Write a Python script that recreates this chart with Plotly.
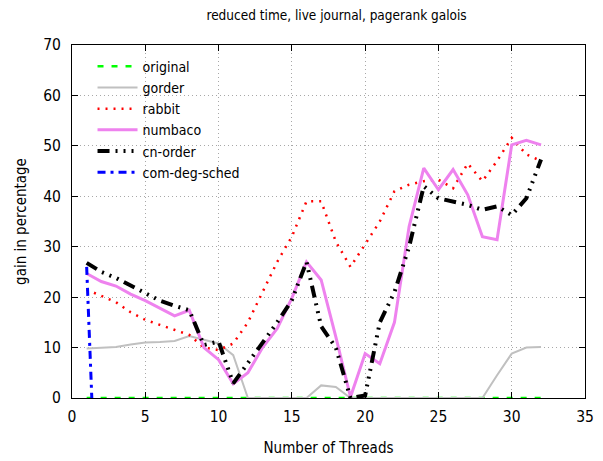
import plotly.graph_objects as go

threads = list(range(1, 33))

original = [0] * 32
gorder = [9.8, 10, 10.1, 10.6, 11, 11.1, 11.3, 12.3, 11.5, 10.8, 8.5, 0,
          0, 0, 0, 0, 2.5, 2.2, 0, 0, 0, 0, 0, 0,
          0, 0, 0, 0, 4.5, 8.8, 10, 10.1]
rabbit = [21.5, 20.3, 19, 17, 15.5, 14.5, 13.5, 12.5, 10, 9.5, 10.8, 15,
          21, 27, 32, 39, 39, 31, 26, 30.5, 35, 41, 42.3, 43,
          43.3, 41.6, 46.5, 43, 47, 51.6, 48.3, 47]
numbaco = [24.7, 23.1, 22.2, 20.6, 19.3, 17.8, 16.3, 17.4, 10, 7.6, 2.8, 5,
           10, 13.8, 19.8, 27, 23.4, 12.1, 0.2, 8.8, 6.8, 15, 34, 45.6,
           41.3, 45.3, 40.3, 32, 31.4, 50.2, 51.1, 50.2]
cn_order = [26.8, 25, 23.8, 22.3, 20.8, 19.3, 18.3, 17.4, 10.5, 11.2, 2.9, 7,
            10.8, 15, 19.4, 27, 14.2, 10, 0, 0.5, 15, 21, 30, 42,
            39.6, 39, 38.3, 37.3, 38, 36.3, 39.6, 47.3]
cds_threads = [1, 2]
com_deg_sched = [26, -48]

FONT = "DejaVu Sans Condensed, DejaVu Sans, sans-serif"

fig = go.Figure()
fig.add_trace(go.Scatter(x=threads, y=original, mode="lines", name="original",
                         line=dict(color="#00ff00", width=2.5, dash="6px,8px")))
fig.add_trace(go.Scatter(x=threads, y=gorder, mode="lines", name="gorder",
                         line=dict(color="#c0c0c0", width=2)))
fig.add_trace(go.Scatter(x=threads, y=rabbit, mode="lines", name="rabbit",
                         line=dict(color="#ff0000", width=2.5, dash="2px,6px")))
fig.add_trace(go.Scatter(x=threads, y=numbaco, mode="lines", name="numbaco",
                         line=dict(color="#ee82ee", width=3)))
fig.add_trace(go.Scatter(x=threads, y=cn_order, mode="lines", name="cn-order",
                         line=dict(color="#000000", width=4,
                                   dash="12px,6px,2px,6px,2px,6px,2px,6px")))
fig.add_trace(go.Scatter(x=cds_threads, y=com_deg_sched, mode="lines", name="com-deg-sched",
                         line=dict(color="#0000ff", width=3, dash="8px,5px,3px,5px")))

axis_common = dict(
    showline=True, linecolor="black", linewidth=1, mirror="ticks",
    ticks="inside", ticklen=6, tickcolor="black",
    showgrid=True, gridcolor="#a8a8a8", griddash="1px,3px", gridwidth=1,
    zeroline=False, automargin=False,
    tickfont=dict(family=FONT, size=15.5, color="black"),
)

fig.update_layout(
    width=603, height=461,
    margin=dict(l=64, r=26, t=37, b=71),
    paper_bgcolor="white", plot_bgcolor="white",
    title=dict(text="reduced time, live journal, pagerank galois",
               x=0.5449, xanchor="center", y=0.985, yanchor="middle",
               font=dict(family=FONT, size=13.5, color="black")),
    xaxis=dict(range=[0, 35], dtick=5, tick0=0, ticklabelstandoff=4,
               title=dict(text="Number of Threads", standoff=17,
                          font=dict(family=FONT, size=15, color="black")),
               **axis_common),
    yaxis=dict(range=[0, 70], dtick=10, tick0=0, ticklabelstandoff=7,
               title=dict(text="gain in percentage", standoff=12,
                          font=dict(family=FONT, size=15, color="black")),
               **axis_common),
    legend=dict(x=0.04, y=0.984, xanchor="left", yanchor="top",
                bgcolor="rgba(255,255,255,0)", borderwidth=0,
                font=dict(family=FONT, size=14, color="black"),
                tracegroupgap=0, itemwidth=40),
    showlegend=True,
)

fig.write_html("out.html")
